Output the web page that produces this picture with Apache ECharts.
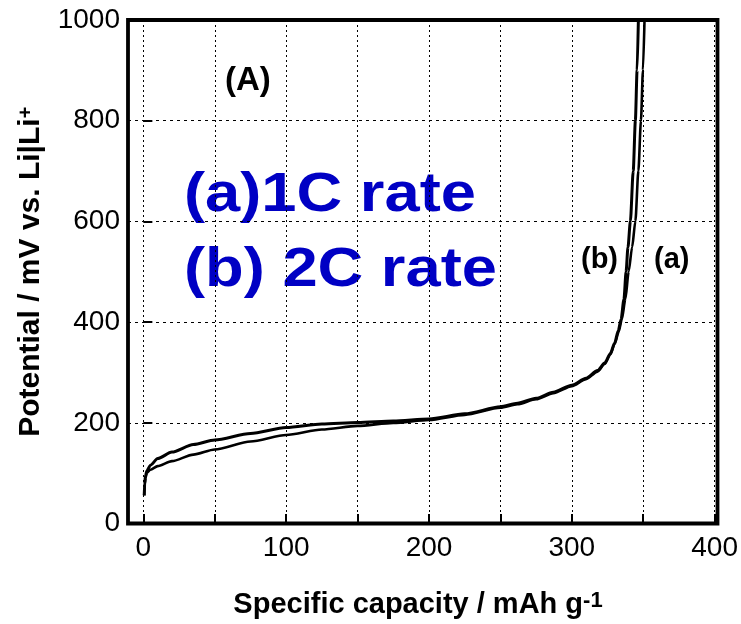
<!DOCTYPE html>
<html>
<head>
<meta charset="utf-8">
<script src="https://cdn.jsdelivr.net/npm/echarts@6/dist/echarts.min.js"></script>
<style>
  html, body { margin: 0; padding: 0; background: #fff; }
  #chart { width: 741px; height: 624px; }
</style>
</head>
<body>
<div id="chart"></div>
<script>
// Delithiation curves: specific capacity (mAh/g) vs potential (mV vs. Li|Li+)
const capacity1C = [0.6, 0.9, 1.5, 2.5, 5, 10, 20, 35, 50, 75, 100, 125, 150, 175, 200, 225, 250, 262, 275, 287, 300, 310, 318, 323, 327, 330, 332.8, 335, 337.5, 339.8, 342.2, 344.5, 346.6, 348.4, 349.8, 350.9];
const potential1C = [55, 74, 90, 100, 106, 113, 123, 136, 146, 162, 175, 186, 193, 199, 205, 215, 229, 236, 246, 258, 272, 286, 301, 316, 335, 356, 380, 405, 445, 500, 548, 600, 700, 800, 900, 1000];

const capacity2C = [0.6, 0.9, 1.5, 2.5, 5, 10, 20, 35, 50, 75, 100, 125, 150, 175, 200, 225, 250, 262, 275, 287, 300, 310, 318, 323, 327, 330, 332.5, 334.5, 336.5, 338, 339.3, 341, 343, 344.5, 345.7, 346.6];
const potential2C = [55, 78, 94, 104, 115, 128, 141, 156, 165, 178, 190, 197, 200, 203, 207, 217, 231, 238, 248, 260, 274, 288, 303, 318, 337, 358, 382, 405, 445, 500, 548, 600, 700, 800, 900, 1000];

const xTickLabels = [0, 100, 200, 300, 400];
const yTickLabels = [0, 200, 400, 600, 800, 1000];

// Axis ranges: the frame starts a little left of zero capacity
const xFrameMin = -10.7, xMin = 0, xMax = 400, xStep = 50;
const yMin = 0, yMax = 1000, yStep = 200;

// Layout
const W = 741;
const gridLeft = 128, gridRight = 23.5, gridTop = 20, gridBottom = 100.5;
const plotW = W - gridLeft - gridRight;
const dataLeft = gridLeft + (xMin - xFrameMin) / (xMax - xFrameMin) * plotW;

const FONT = '"Liberation Sans", Arial, Helvetica, sans-serif';
const zip = (xs, ys) => xs.map((x, i) => [x, ys[i]]);

const tickStyle = { show: true, inside: true, length: 9, lineStyle: { color: '#000', width: 2 } };
const vGridLine = { show: true, lineStyle: { color: '#000', width: 1, type: [2, 3] } };
const hGridLine = { show: true, lineStyle: { color: '#000', width: 1, type: [3, 4] } };

const chart = echarts.init(document.getElementById('chart'));
chart.setOption({
  animation: false,
  backgroundColor: '#fff',
  textStyle: { fontFamily: FONT },
  grid: [
    { left: gridLeft, right: gridRight, top: gridTop, bottom: gridBottom,
      show: true, borderColor: '#000', borderWidth: 3.8, backgroundColor: 'transparent' },
    { left: dataLeft, right: gridRight, top: gridTop, bottom: gridBottom }
  ],
  xAxis: [
    { gridIndex: 0, type: 'value', min: xFrameMin, max: xMax, show: false },
    {
      gridIndex: 1, type: 'value', min: xMin, max: xMax, interval: xStep,
      axisLine: { show: false },
      axisTick: tickStyle,
      splitLine: vGridLine,
      axisLabel: {
        formatter: v => (xTickLabels.includes(v) ? String(v) : ''),
        fontSize: 28, color: '#000', margin: 11, fontFamily: FONT
      },
      name: 'Specific capacity / mAh g{sup|-1}',
      nameLocation: 'middle',
      nameGap: 67,
      nameTextStyle: {
        fontSize: 29, fontWeight: 'bold', color: '#000', fontFamily: FONT,
        padding: [0, 22, 0, 0],
        rich: { sup: { fontSize: 22, fontWeight: 'bold', color: '#000', fontFamily: FONT, verticalAlign: 'top' } }
      }
    }
  ],
  yAxis: [
    {
      gridIndex: 0, type: 'value', min: yMin, max: yMax, interval: yStep,
      axisLine: { show: false },
      axisTick: tickStyle,
      splitLine: hGridLine,
      axisLabel: {
        formatter: v => (yTickLabels.includes(v) ? String(v) : ''),
        fontSize: 28, color: '#000', margin: 8, fontFamily: FONT
      },
      name: 'Potential / mV vs. Li|Li{sup|+}',
      nameLocation: 'middle',
      nameRotate: 90,
      nameGap: 82,
      nameTextStyle: {
        fontSize: 30, fontWeight: 'bold', color: '#000', fontFamily: FONT,
        rich: { sup: { fontSize: 20, fontWeight: 'bold', color: '#000', fontFamily: FONT, verticalAlign: 'top' } }
      }
    },
    { gridIndex: 1, type: 'value', min: yMin, max: yMax, show: false }
  ],
  series: [
    {
      name: '(a) 1C', type: 'line', xAxisIndex: 1, yAxisIndex: 1,
      data: zip(capacity1C, potential1C),
      symbol: 'none', smooth: 0.25, smoothMonotone: 'x',
      lineStyle: { color: '#000', width: 2.6 }, z: 3
    },
    {
      name: '(b) 2C', type: 'line', xAxisIndex: 1, yAxisIndex: 1,
      data: zip(capacity2C, potential2C),
      symbol: 'none', smooth: 0.25, smoothMonotone: 'x',
      lineStyle: { color: '#000', width: 3 }, z: 4
    }
  ],
  graphic: [
    { type: 'text', x: 225, y: 81,
      style: { text: '(A)', font: 'bold 33px ' + FONT, fill: '#000',
               align: 'left', verticalAlign: 'middle', textAlign: 'left', textVerticalAlign: 'middle' } },
    { type: 'text', x: 184, y: 195.6, scaleX: 1.13,
      style: { text: '(a)1C rate', font: 'bold 56px ' + FONT, fill: '#0000c4',
               align: 'left', verticalAlign: 'middle', textAlign: 'left', textVerticalAlign: 'middle' } },
    { type: 'text', x: 184, y: 270.6, scaleX: 1.13,
      style: { text: '(b) 2C rate', font: 'bold 56px ' + FONT, fill: '#0000c4',
               align: 'left', verticalAlign: 'middle', textAlign: 'left', textVerticalAlign: 'middle' } },
    { type: 'text', x: 581, y: 260,
      style: { text: '(b)', font: 'bold 29px ' + FONT, fill: '#000',
               align: 'left', verticalAlign: 'middle', textAlign: 'left', textVerticalAlign: 'middle' } },
    { type: 'text', x: 654, y: 260,
      style: { text: '(a)', font: 'bold 29px ' + FONT, fill: '#000',
               align: 'left', verticalAlign: 'middle', textAlign: 'left', textVerticalAlign: 'middle' } }
  ]
});
</script>
</body>
</html>
